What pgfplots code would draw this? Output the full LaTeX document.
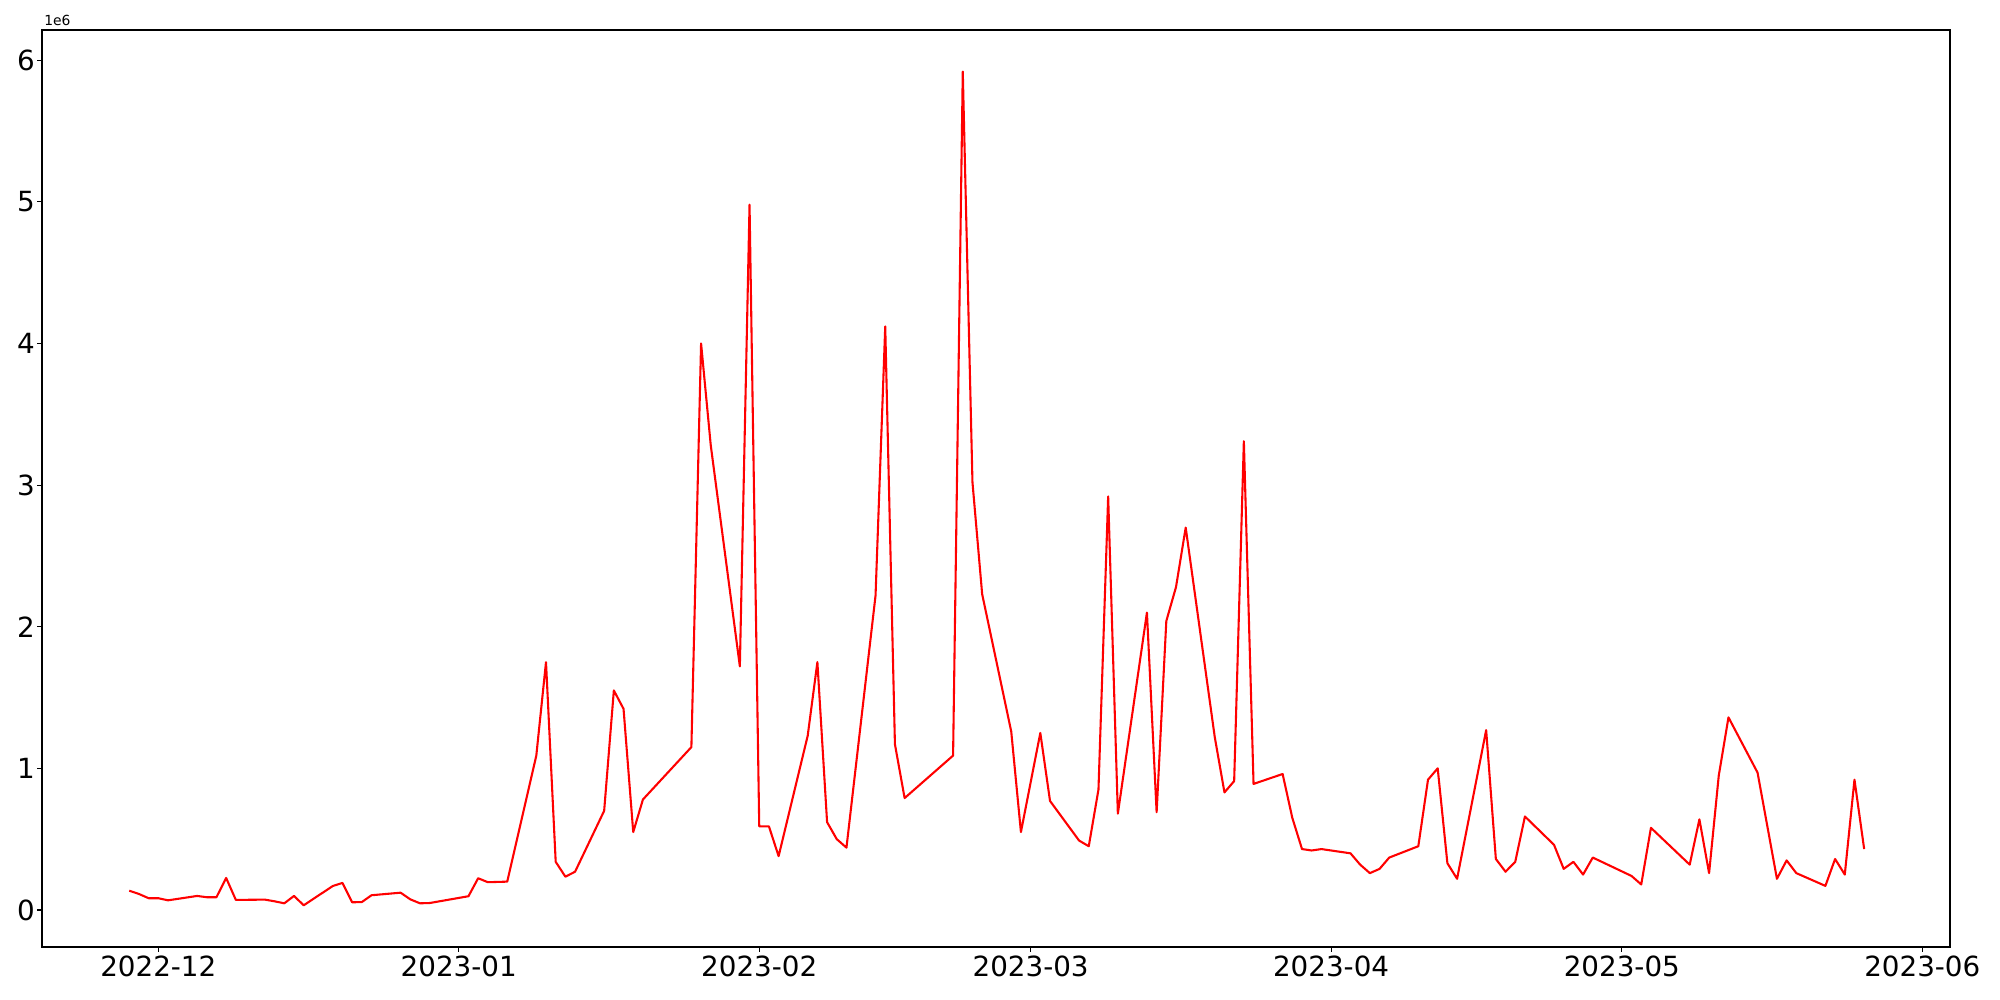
\documentclass[border=0pt]{standalone}
\usepackage{fontspec}
\setmainfont{DejaVu Sans}
\usepackage{pgfplots}
\pgfplotsset{compat=1.18}
\begin{document}
\begin{tikzpicture}
\path[use as bounding box] (-30.24pt,-38.16pt) rectangle (1409.76pt,681.84pt);
\begin{axis}[
  at={(0pt,0pt)}, anchor=south west,
  scale only axis, width=1373.76pt, height=660.24pt,
  xmin=-12.0, xmax=184.86, ymin=-0.2615, ymax=6.2135,
  axis line style={line width=0.8pt},
  tick align=outside, major tick length=3.5pt,
  tick style={line width=0.8pt, black},
  xtick={0,31,62,90,121,151,182},
  xticklabels={2022-12,2023-01,2023-02,2023-03,2023-04,2023-05,2023-06},
  ytick={0,1,2,3,4,5,6},
  yticklabels={0,1,2,3,4,5,6},
  xtick pos=bottom, ytick pos=left,
  every tick label/.append style={font=\fontsize{20}{24}\selectfont, inner sep=0pt},
  xticklabel style={anchor=north, yshift=-3pt},
  yticklabel style={anchor=east, xshift=-1.5pt},
  clip=false,
]
\addplot[red, line width=1.5pt, line join=round] coordinates {
(-3,0.136) (-2,0.113) (-1,0.083) (0,0.083) (1,0.068) (4,0.099) (5,0.090) (6,0.090)
(7,0.226) (8,0.071) (11,0.073) (12,0.061) (13,0.047) (14,0.099) (15,0.033)
(18,0.169) (19,0.191) (20,0.054) (21,0.056) (22,0.104) (25,0.122) (26,0.075)
(27,0.047) (28,0.049) (32,0.097) (33,0.224) (34,0.196) (35,0.198) (36,0.200)
(39,1.09) (40,1.75) (41,0.34) (42,0.235) (43,0.27) (46,0.70) (47,1.55) (48,1.42)
(49,0.55) (50,0.78) (55,1.15) (56,4.00) (57,3.28) (60,1.72) (61,4.98) (62,0.59)
(63,0.59) (64,0.38) (67,1.23) (68,1.75) (69,0.62) (70,0.50) (71,0.44) (74,2.22)
(75,4.12) (76,1.17) (77,0.79) (82,1.09) (83,5.92) (84,3.02) (85,2.23) (88,1.26)
(89,0.55) (91,1.25) (92,0.77) (95,0.49) (96,0.45) (97,0.85) (98,2.92) (99,0.68)
(102,2.10) (103,0.69) (104,2.04) (105,2.28) (106,2.70) (109,1.22) (110,0.83)
(111,0.91) (112,3.31) (113,0.89) (116,0.96) (117,0.65) (118,0.43) (119,0.42)
(120,0.43) (123,0.40) (124,0.32) (125,0.26) (126,0.29) (127,0.37) (130,0.45)
(131,0.92) (132,1.00) (133,0.33) (134,0.22) (137,1.27) (138,0.36) (139,0.27)
(140,0.34) (141,0.66) (144,0.46) (145,0.29) (146,0.34) (147,0.25) (148,0.37)
(152,0.24) (153,0.18) (154,0.58) (158,0.32) (159,0.64) (160,0.26) (161,0.95)
(162,1.36) (165,0.97) (167,0.22) (168,0.35) (169,0.26) (172,0.17) (173,0.36)
(174,0.25) (175,0.92) (176,0.43)
};
\node[anchor=base west, inner sep=0pt, font=\fontsize{10}{12}\selectfont]
  at (rel axis cs:0,1) [xshift=1.5pt, yshift=2.9pt] {1e6};
\end{axis}
\end{tikzpicture}
\end{document}
